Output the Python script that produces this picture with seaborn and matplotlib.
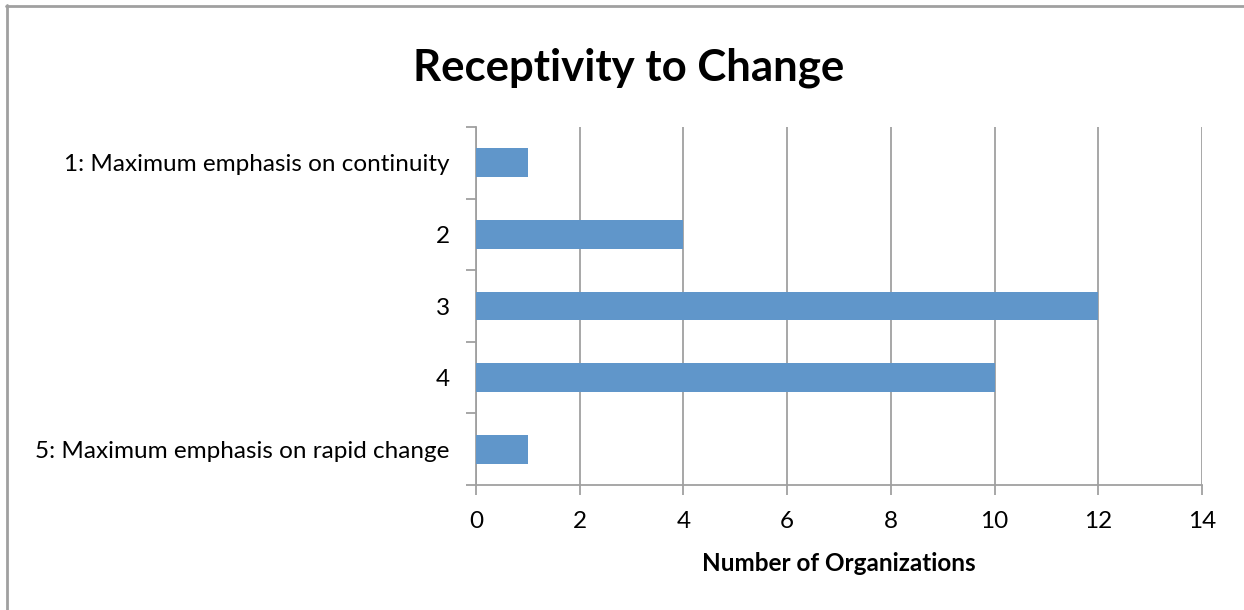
import numpy as np
import pandas as pd
import matplotlib.pyplot as plt
import seaborn as sns
from matplotlib.lines import Line2D

# data
categories = [
    "1: Maximum emphasis on continuity",
    "2",
    "3",
    "4",
    "5: Maximum emphasis on rapid change",
]
counts = [1, 4, 12, 10, 1]
x_ticks = [0, 2, 4, 6, 8, 10, 12, 14]

df = pd.DataFrame({"category": categories, "count": counts})

sns.set_style("white")
plt.rcParams['font.family'] = ['Lato', 'DejaVu Sans']
plt.rcParams['text.color'] = 'black'
plt.rcParams['xtick.color'] = 'black'
plt.rcParams['ytick.color'] = 'black'

fig = plt.figure(figsize=(12.44, 6.10), dpi=100)
ax = fig.add_axes([0.3826, 0.2049, 0.9662 - 0.3826, 0.7918 - 0.2049])

sns.barplot(data=df, x="count", y="category", orient="h", color="#6096CA",
            width=0.4, saturation=1, ax=ax, zorder=3, linewidth=0)

grey = "#A0A0A0"
lab_size = 17.5
ax.set_xlim(0, 14)
ax.set_ylim(4.5, -0.5)
ax.set_xticks(x_ticks)
ax.set_xticklabels([str(t) for t in x_ticks], fontsize=lab_size)
ax.grid(True, axis='x', color=grey, linewidth=1.3, zorder=0)
ax.tick_params(axis='x', bottom=True, length=7, width=1.3, color=grey, labelcolor='black',
               direction='out', pad=12)
ax.tick_params(axis='y', which='major', left=True, length=0, labelsize=lab_size,
               labelcolor='black', pad=19)
ax.set_yticks(np.arange(-0.5, 5, 1), minor=True)
ax.tick_params(axis='y', which='minor', left=True, length=7, width=1.3, color=grey,
               direction='out')

for side in ['top', 'right']:
    ax.spines[side].set_visible(False)
for side in ['left', 'bottom']:
    ax.spines[side].set_color(grey)
    ax.spines[side].set_linewidth(1.3)

ax.set_ylabel("")
ax.set_xlabel("Number of Organizations", fontsize=17.5, fontweight='bold', labelpad=14,
              color='black')
fig.suptitle("Receptivity to Change", fontsize=31.5, fontweight='bold', x=0.505, y=0.922,
             color='black')

# outer frame (top and left edges visible)
fig.add_artist(Line2D([6 / 1244, 1], [1 - 5.5 / 610] * 2, color=grey, linewidth=2,
                      transform=fig.transFigure))
fig.add_artist(Line2D([6.5 / 1244] * 2, [0, 1 - 5 / 610], color=grey, linewidth=2,
                      transform=fig.transFigure))

plt.savefig("out.png", dpi=100)
plt.close()
